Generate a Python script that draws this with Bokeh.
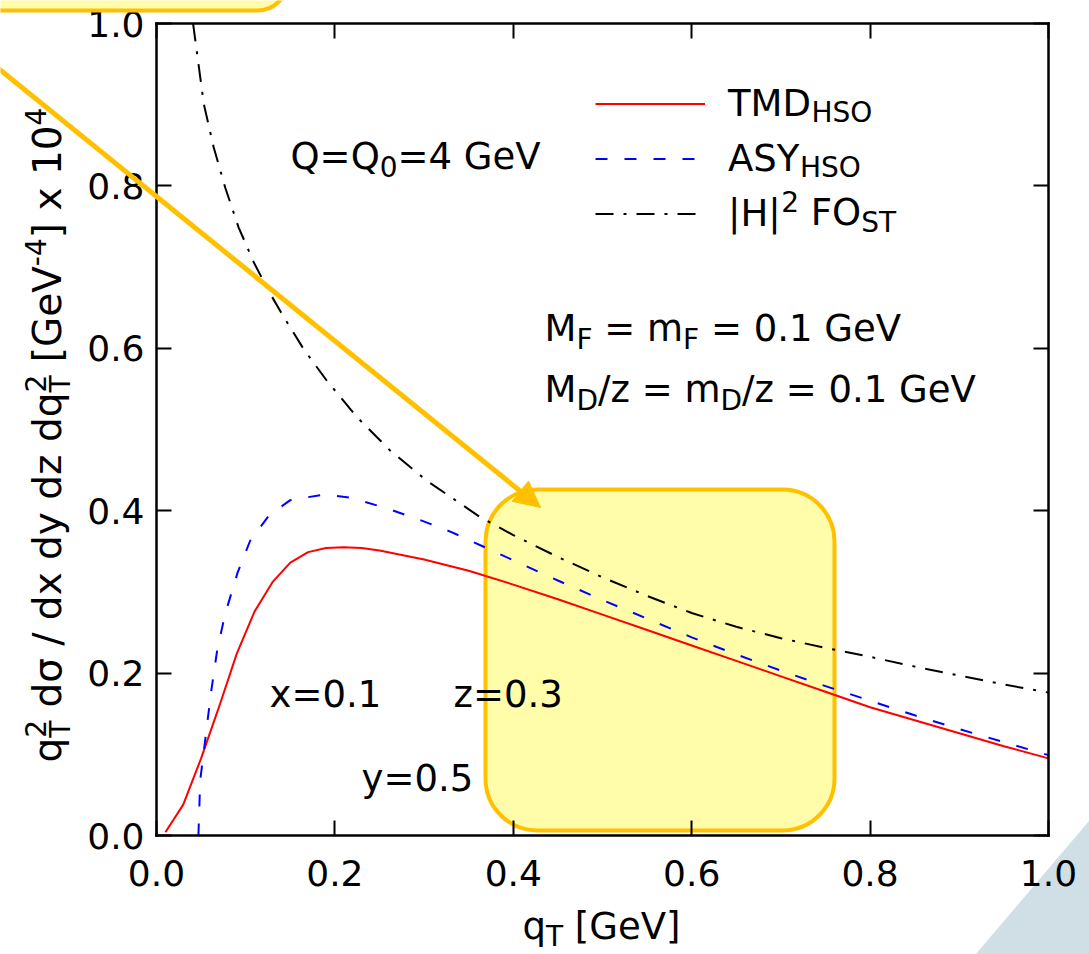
import math
from bokeh.plotting import figure
from bokeh.models import (Range1d, LinearAxis, FixedTicker, Label, BoxAnnotation,
                          Arrow, NormalHead, PolyAnnotation, Legend, LegendItem)
from bokeh.embed import file_html
from bokeh.resources import INLINE

# ---------------- data ----------------
q_tmd = [0.01, 0.03, 0.05, 0.07, 0.09, 0.11, 0.13, 0.15, 0.17, 0.19, 0.21, 0.23, 0.25,
         0.30, 0.35, 0.40, 0.45, 0.50, 0.55, 0.60, 0.65, 0.70, 0.75, 0.80, 0.85, 0.90, 0.95, 1.00]
v_tmd = [0.004, 0.038, 0.095, 0.158, 0.224, 0.276, 0.312, 0.336, 0.349, 0.354, 0.355, 0.354, 0.351,
         0.340, 0.326, 0.309, 0.291, 0.272, 0.253, 0.234, 0.215, 0.196, 0.177, 0.158, 0.142, 0.126, 0.110, 0.095]

q_asy = [0.047, 0.049, 0.055, 0.061, 0.068, 0.077, 0.091, 0.105, 0.126, 0.150, 0.188, 0.217, 0.255,
         0.292, 0.330, 0.370, 0.40, 0.45, 0.50, 0.55, 0.60, 0.65, 0.70, 0.75, 0.80, 0.85, 0.90, 0.95, 1.00]
v_asy = [0.0, 0.068, 0.121, 0.175, 0.228, 0.273, 0.324, 0.363, 0.394, 0.413, 0.420, 0.416, 0.404,
         0.390, 0.374, 0.354, 0.339, 0.314, 0.290, 0.267, 0.244, 0.223, 0.203, 0.184, 0.166, 0.148, 0.131, 0.115, 0.099]

q_fo = [0.041, 0.053, 0.064, 0.077, 0.092, 0.109, 0.126, 0.143, 0.165, 0.191, 0.225, 0.262, 0.303,
        0.363, 0.40, 0.45, 0.50, 0.55, 0.60, 0.65, 0.70, 0.75, 0.80, 0.85, 0.90, 0.95, 1.00]
v_fo = [1.0, 0.901, 0.848, 0.798, 0.749, 0.706, 0.670, 0.638, 0.599, 0.560, 0.515, 0.474, 0.437,
        0.392, 0.370, 0.343, 0.318, 0.295, 0.274, 0.257, 0.243, 0.231, 0.220, 0.208, 0.197, 0.186, 0.176]

tick_values = [0.0, 0.2, 0.4, 0.6, 0.8, 1.0]
tick_labels = ["0.0", "0.2", "0.4", "0.6", "0.8", "1.0"]

legend_names = ["TMD", "ASY", "|H|"]
legend_subs = ["HSO", "HSO", "ST"]

# ---------------- layout helpers ----------------
FONT = "DejaVu Sans"
FS = 37        # text size
SUB = 28       # sub/superscript size
TICK_FS = 36
W, H = 1089, 954
FX0, FY0, FW, FH = 156, 23, 892, 812   # where the 0..1 box sits on the page


def dx(px):
    return (px - FX0) / FW


def dy(py):
    return (FY0 + FH - py) / FH


NB = "\u00a0"
ADV = {' ': 651, NB: 651, '.': 651, '=': 1716, '/': 690, '|': 690, '[': 799, ']': 799, '-': 739,
       'A': 1401, 'D': 1577, 'F': 1178, 'G': 1589, 'H': 1540, 'M': 1767, 'O': 1612, 'Q': 1612,
       'S': 1300, 'T': 1251, 'V': 1401, 'Y': 1251, 'd': 1300, 'e': 1260, 'm': 1995, 'q': 1300,
       'x': 1212, 'y': 1212, 'z': 1075, '\u03c3': 1300}


def tw(txt, size):
    return sum(ADV.get(c, 1303) for c in txt) / 2048.0 * size


SHIFT = {'n': 0, 'sub': 7, 'sup': -14}
VSHIFT = {'n': 0, 'sub': 9, 'sup': -16}
BASE_FIX = 0.36   # measured offset of the rendered baseline
labels = []


def mk(x_px, base_px, txt, size, angle=0.0):
    txt = txt.replace(" ", NB)
    if angle == 0.0:
        x, y = dx(x_px), dy(base_px - BASE_FIX * size)
    else:
        x, y = dx(base_px - BASE_FIX * size), dy(x_px)
    labels.append(Label(x=x, y=y, text=txt, text_font=FONT, text_font_size=f"{size}px",
                        text_baseline="alphabetic", text_align="left", text_color="black",
                        angle=angle))


def run_h(pieces, x_px, base_px, fs=FS, sub=SUB):
    x = x_px
    for txt, kind in pieces:
        size = fs if kind == 'n' else sub
        mk(x, base_px + SHIFT[kind], txt, size)
        x += tw(txt, size)
    return x


def run_v(pieces, base_x, y_px, fs, sub):
    y = y_px
    for txt, kind in pieces:
        if kind == 'subsup':
            sb, sp = txt
            mk(y, base_x + VSHIFT['sub'], sb, sub, math.pi / 2)
            mk(y, base_x + VSHIFT['sup'], sp, sub, math.pi / 2)
            y -= max(tw(sb, sub), tw(sp, sub))
        else:
            size = fs if kind == 'n' else sub
            mk(y, base_x + VSHIFT[kind], txt, size, math.pi / 2)
            y -= tw(txt, size)


# ---------------- figure ----------------
p = figure(width=W, height=H, min_border=0,
           x_range=Range1d(dx(0), dx(W)), y_range=Range1d(dy(H), dy(0)),
           output_backend="svg", toolbar_location=None,
           background_fill_color="white", border_fill_color="white")
p.grid.visible = False
p.outline_line_color = None

ticker = FixedTicker(ticks=tick_values)
overrides = {v: s for v, s in zip(tick_values, tick_labels)}
p.add_layout(LinearAxis(), "above")
p.add_layout(LinearAxis(), "right")
p.below[0].fixed_location = 0
p.left[0].fixed_location = 0
p.above[0].fixed_location = 1
p.right[0].fixed_location = 1
for ax in p.axis:
    ax.ticker = ticker
    ax.bounds = (0, 1)
    ax.axis_line_color = "black"
    ax.axis_line_width = 2.5
    ax.axis_line_cap = "square"
    ax.major_tick_in = 15
    ax.major_tick_out = 0
    ax.major_tick_line_width = 2
    ax.major_tick_line_color = "black"
    ax.minor_tick_line_color = None
    ax.major_label_text_font = FONT
    ax.major_label_text_font_size = f"{TICK_FS}px"
    ax.major_label_text_color = "black"
    ax.major_label_overrides = overrides
p.above[0].major_label_text_color = None
p.right[0].major_label_text_color = None
p.below[0].major_label_standoff = 24
p.left[0].major_label_standoff = 12

# highlight box (behind the curves)
p.add_layout(BoxAnnotation(left=dx(485), right=dx(834), top=dy(489), bottom=dy(830),
                           fill_color="#FFFCAA", fill_alpha=1.0, line_color="#FFC000",
                           line_alpha=1.0, line_width=4, border_radius=52, level="underlay"))
# partial box at the top-left edge
p.add_layout(BoxAnnotation(left=dx(-120), right=dx(287), top=dy(-120), bottom=dy(10),
                           fill_color="#FFFCAA", fill_alpha=1.0, line_color="#FFC000",
                           line_alpha=1.0, line_width=4, border_radius=30, level="overlay"))
# corner triangle
p.add_layout(PolyAnnotation(xs=[dx(1119), dx(955), dx(1150)], ys=[dy(784.7), dy(977.5), dy(1000)],
                            fill_color="#D0DEE6", fill_alpha=1.0, line_color=None, level="underlay"))

r_tmd = p.line(q_tmd, v_tmd, line_color="#FF0000", line_width=2)
r_asy = p.line(q_asy, v_asy, line_color="#0000FF", line_width=2, line_dash="12 17")
r_fo = p.line(q_fo, v_fo, line_color="black", line_width=2, line_dash="18 10 3 10")

legend = Legend(items=[LegendItem(label=n, renderers=[r]) for n, r in
                       zip(legend_names, [r_tmd, r_asy, r_fo])],
                location=(595, H - 240.5), glyph_width=110, glyph_height=55,
                label_height=55, label_width=10, spacing=0, padding=0, margin=0,
                label_standoff=23, border_line_color=None, background_fill_alpha=0,
                label_text_font=FONT, label_text_font_size=f"{FS}px", label_text_color="black")
p.add_layout(legend)

# legend sub/superscripts (legend text baselines ~115, 170, 225)
for name, sub, base in zip(legend_names[:2], legend_subs[:2], [115, 170]):
    run_h([(sub, 'sub')], 728 + tw(name, FS), base)
run_h([("2", 'sup'), (" FO", 'n'), (legend_subs[2], 'sub')], 728 + tw(legend_names[2], FS), 225)

# arrow
p.add_layout(Arrow(x_start=dx(-60), y_start=dy(21), x_end=dx(540), y_end=dy(507),
                   line_color="#FFC000", line_width=5,
                   end=NormalHead(size=26, fill_color="#FFC000", line_color="#FFC000")))

# annotations
run_h([("Q=Q", 'n'), ("0", 'sub'), ("=4 GeV", 'n')], 290, 169)
run_h([("M", 'n'), ("F", 'sub'), (" = m", 'n'), ("F", 'sub'), (" = 0.1 GeV", 'n')], 544, 341.7)
run_h([("M", 'n'), ("D", 'sub'), ("/z = m", 'n'), ("D", 'sub'), ("/z = 0.1 GeV", 'n')], 544, 402.7)
run_h([("x=0.1", 'n')], 269, 707)
run_h([("z=0.3", 'n')], 453, 707)
run_h([("y=0.5", 'n')], 361, 791.7)
run_h([("q", 'n'), ("T", 'sub'), (" [GeV]", 'n')], 522, 939.5)

ylab = [("q", 'n'), (("T", "2"), 'subsup'), (" d\u03c3 / dx dy dz dq", 'n'), (("T", "2"), 'subsup'),
        (" [GeV", 'n'), ("-4", 'sup'), ("] x 10", 'n'), ("4", 'sup')]
run_v(ylab, 61, 762, 39, 28)

for lb in labels:
    p.add_layout(lb)

open("out.html", "w").write(file_html(p, INLINE))
